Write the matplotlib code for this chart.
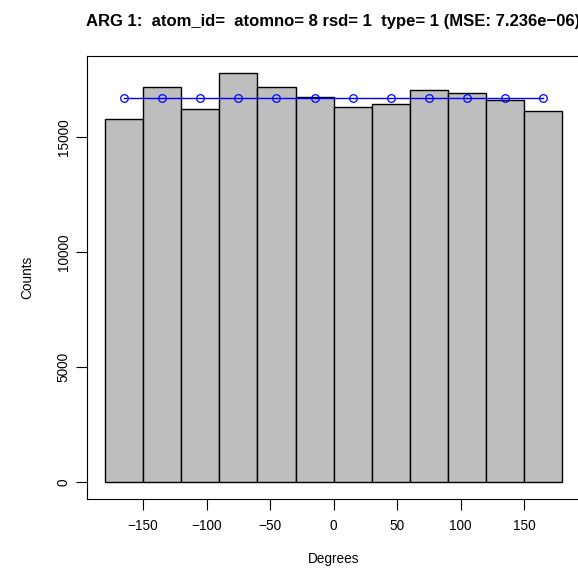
import numpy as np
import matplotlib
matplotlib.use("Agg")
import matplotlib.pyplot as plt

plt.rcParams['font.family'] = ['Liberation Sans', 'DejaVu Sans']

# histogram bins (degrees) and counts
bin_edges = [-180, -150, -120, -90, -60, -30, 0, 30, 60, 90, 120, 150, 180]
counts = [15770, 17170, 16220, 17800, 17190, 16750, 16300, 16420, 17060, 16900, 16590, 16130]
# expected (uniform) count per bin
expected = [16690] * 12

title = "ARG 1:  atom_id=  atomno= 8 rsd= 1  type= 1 (MSE: 7.236e\u221206)"

edges = np.array(bin_edges)
centers = (edges[:-1] + edges[1:]) / 2
widths = np.diff(edges)

fig = plt.figure(figsize=(5.78, 5.69), dpi=100)
ax = fig.add_axes([0.150, 0.1225, 0.8545, 0.7791])

ax.bar(edges[:-1], counts, width=widths, align='edge', color='#bebebe',
       edgecolor='black', linewidth=1.0)
ax.plot(centers, expected, color='blue', linewidth=1.0, marker='o',
        markersize=5.5, markerfacecolor='none', markeredgecolor='blue',
        markeredgewidth=0.9)

ax.set_xlim(-194.4, 194.4)
ax.set_ylim(-752, 18522)
ax.set_xticks([-150, -100, -50, 0, 50, 100, 150])
ax.set_yticks([0, 5000, 10000, 15000])
ax.set_yticklabels(['0', '5000', '10000', '15000'], rotation=90, va='center')
ax.tick_params(axis='both', direction='out', length=8, width=0.8,
               labelsize=9.8)
ax.tick_params(axis='x', pad=6)
ax.tick_params(axis='y', pad=3.5)

for s in ax.spines.values():
    s.set_linewidth(0.8)

ax.set_xlabel('Degrees', fontsize=9.8, labelpad=14)
ax.set_ylabel('Counts', fontsize=9.8, labelpad=16)
# the reference title runs past the right edge, as R drew it
fig.text(0.577, 0.962, title, ha='center', va='center', fontsize=12.0,
         fontweight='bold')

fig.savefig('out.png', dpi=100)
